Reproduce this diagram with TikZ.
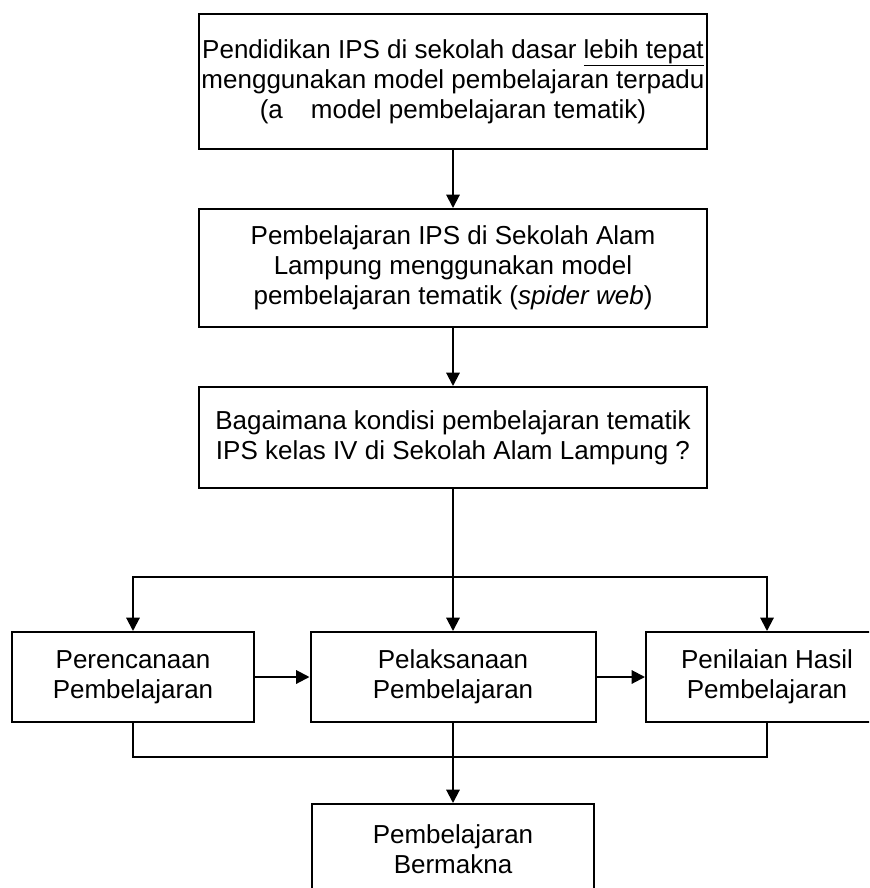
\documentclass[tikz,border=0pt]{standalone}
\usepackage{fontspec}
\setmainfont{Liberation Sans}
\usetikzlibrary{arrows.meta}

\begin{document}
\begin{tikzpicture}[x=0.75pt,y=-0.75pt,line width=1.5pt,
    >={Triangle[length=10pt,width=10pt]},
    box/.style={rectangle,draw,align=center,inner sep=0pt,font=\fontsize{19.5}{22.5}\selectfont}]
            \clip (0,0) rectangle (869,888);

            \draw (453,81.5) node (pend) [box,minimum width=508*0.75pt,minimum height=135*0.75pt] {Pendidikan IPS di sekolah dasar \underline{lebih tepat}\\menggunakan model pembelajaran terpadu\\(a\hspace{21pt}model pembelajaran tematik)};
            \draw (453,268) node (alam) [box,minimum width=508*0.75pt,minimum height=118*0.75pt] {Pembelajaran IPS di Sekolah Alam\\Lampung menggunakan model\\pembelajaran tematik (\textit{spider web})};
            \draw (453,437.5) node (tanya) [box,minimum width=508*0.75pt,minimum height=101*0.75pt] {Bagaimana kondisi pembelajaran tematik\\IPS kelas IV di Sekolah Alam Lampung ?};

            \draw (133,677) node (renc) [box,minimum width=242*0.75pt,minimum height=90*0.75pt] {Perencanaan\\Pembelajaran};
            \draw (453,677) node (laks) [box,minimum width=285*0.75pt,minimum height=90*0.75pt] {Pelaksanaan\\Pembelajaran};
            \draw (767,677) node (nilai) [box,minimum width=242*0.75pt,minimum height=90*0.75pt] {Penilaian Hasil\\Pembelajaran};

            \draw (453,849) node (makna) [box,minimum width=282*0.75pt,minimum height=90*0.75pt] {Pembelajaran\\Bermakna};

            \coordinate (bagi) at (453,577);
            \coordinate (gabung) at (453,757);

            \draw [->] (pend.south) to (alam.north);
            \draw [->] (alam.south) to (tanya.north);
            \draw [->] (tanya.south) to (laks.north);
            \draw [->] (bagi) -| (renc.north);
            \draw [->] (bagi) -| (nilai.north);

            \draw [->] (renc.east) to (laks.west);
            \draw [->] (laks.east) to (nilai.west);

            \draw (renc.south) |- (gabung);    % kiri
            \draw (nilai.south) |- (gabung);   % kanan
            \draw [->] (laks.south) to (makna.north);
        \end{tikzpicture}
\end{document}
